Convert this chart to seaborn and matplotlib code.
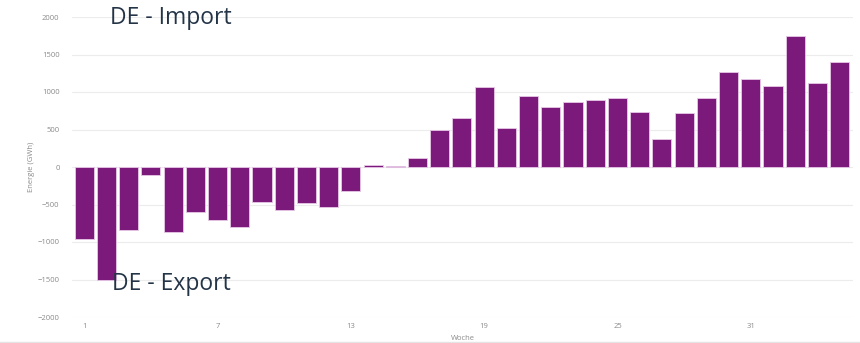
import matplotlib
matplotlib.use("Agg")
import matplotlib.pyplot as plt
import seaborn as sns
import pandas as pd

# Weekly net exchange for Germany (positive = import, negative = export), in GWh
weeks = list(range(1, 36))
energy_gwh = [
    -960, -1500, -835, -110, -870, -595, -705, -805, -465, -575,
    -480, -535, -320, 25, 10, 125, 495, 660, 1070, 515,
    950, 800, 866, 893, 915, 730, 374, 717, 923, 1262,
    1174, 1078, 1750, 1126, 1398,
]
y_ticks = [-2000, -1500, -1000, -500, 0, 500, 1000, 1500, 2000]
x_tick_weeks = [1, 7, 13, 19, 25, 31]

df = pd.DataFrame({"Woche": weeks, "Energie": energy_gwh})

sns.set_style("white")
plt.rcParams["font.family"] = ["Open Sans", "DejaVu Sans"]

fig = plt.figure(figsize=(8.6, 3.43), dpi=100)
ax = fig.add_axes([72 / 860, 26 / 343, 781 / 860, 300 / 343])

bar_color = "#7b1a7b"
sns.barplot(data=df, x="Woche", y="Energie", order=weeks, color=bar_color,
            saturation=1, width=0.86, edgecolor="#e8c8e8", linewidth=0.6, ax=ax)

ax.set_ylim(-2000, 2000)
ax.set_xlim(-0.55, 34.6)
ax.set_yticks(y_ticks)
ax.set_yticklabels([f"{v:d}".replace("-", "\u2212") for v in y_ticks])
ax.set_xticks([weeks.index(w) for w in x_tick_weeks])
ax.set_xticklabels([str(w) for w in x_tick_weeks])

ax.yaxis.grid(True, color="#ececec", linewidth=0.8)
ax.set_axisbelow(True)
for side in ["top", "right", "left", "bottom"]:
    ax.spines[side].set_visible(False)
ax.tick_params(axis="both", length=0, labelsize=5.5, colors="#8a8a8a")
ax.tick_params(axis="y", pad=9)
ax.tick_params(axis="x", pad=4)

ax.set_ylabel("Energie (GWh)", fontsize=5.5, color="#8a8a8a", labelpad=2)
ax.set_xlabel("Woche", fontsize=5.5, color="#8a8a8a", labelpad=4)

fig.text(110 / 860, 1 - 18 / 343, "DE - Import", fontsize=16.5, color="#243447",
         ha="left", va="center")
fig.text(112 / 860, 1 - 284 / 343, "DE - Export", fontsize=16.5, color="#243447",
         ha="left", va="center")

# faint frame line along the bottom edge
fig.add_artist(plt.Line2D([0, 1], [1.5 / 343, 1.5 / 343], color="#e4e4e4",
                          linewidth=1.0, transform=fig.transFigure))

fig.savefig("out.png", dpi=100)
